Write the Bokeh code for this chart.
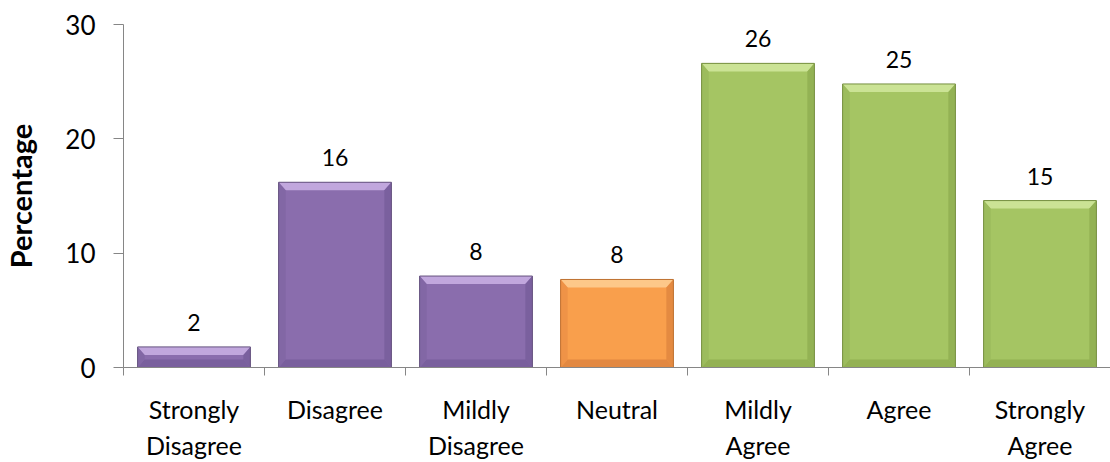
from bokeh.plotting import figure
from bokeh.models import Range1d, LinearAxis, FixedTicker, ColumnDataSource
from bokeh.embed import file_html
from bokeh.resources import INLINE
from bokeh.core.properties import value

# ---- data ----
categories = ["Strongly Disagree", "Disagree", "Mildly Disagree", "Neutral",
              "Mildly Agree", "Agree", "Strongly Agree"]
tick_labels = ["Strongly\nDisagree", "Disagree", "Mildly\nDisagree", "Neutral",
               "Mildly\nAgree", "Agree", "Strongly\nAgree"]
percentages = [1.8, 16.2, 8.0, 7.7, 26.6, 24.8, 14.6]
value_labels = ["2", "16", "8", "8", "26", "25", "15"]
y_ticks = [0, 10, 20, 30]

# ---- styles ----
groups = ["neg", "neg", "neg", "neu", "pos", "pos", "pos"]
fill = {"neg": "#8A6DAD", "neu": "#F99F4C", "pos": "#A5C563"}
light = {"neg": "#C7ADE2", "neu": "#FDCC90", "pos": "#CFE59A"}
dark = {"neg": "#765D9A", "neu": "#DE843F", "pos": "#8FAD50"}
side = {"neg": "#7F65A3", "neu": "#EC9046", "pos": "#9AB95B"}
edge = {"neg": "#65527F", "neu": "#BE7030", "pos": "#768F40"}

FONT = "Lato"
BAR_W = 0.8
BEV_H = 0.05   # bevel width in x units
BEV_V = 0.7    # bevel height in y units

n = len(categories)
centers = [i + 0.5 for i in range(n)]  # category slot centres on a linear scale

src = ColumnDataSource(dict(
    x=centers, top=percentages, label=value_labels,
    fill=[fill[g] for g in groups], edge=[edge[g] for g in groups],
))

# bevel facets derived from the data
top_xs, top_ys, bot_xs, bot_ys, l_xs, l_ys, r_xs, r_ys = ([] for _ in range(8))
for c, v in zip(centers, percentages):
    x0, x1 = c - BAR_W / 2, c + BAR_W / 2
    dv = min(BEV_V, v * 0.4)
    top_xs.append([x0, x1, x1 - BEV_H, x0 + BEV_H]); top_ys.append([v, v, v - dv, v - dv])
    bot_xs.append([x0, x1, x1 - BEV_H, x0 + BEV_H]); bot_ys.append([0, 0, dv, dv])
    l_xs.append([x0, x0 + BEV_H, x0 + BEV_H, x0]); l_ys.append([0, dv, v - dv, v])
    r_xs.append([x1, x1 - BEV_H, x1 - BEV_H, x1]); r_ys.append([0, dv, v - dv, v])

p = figure(x_range=Range1d(0, n), y_range=Range1d(0, 30),
           width=1110, height=462, output_backend="svg", toolbar_location=None,
           x_axis_location=None, min_border_left=123, min_border_right=0,
           min_border_top=24, min_border_bottom=10)
p.outline_line_color = None
p.xgrid.visible = False
p.ygrid.visible = False
p.background_fill_color = "white"

# bars
p.vbar(x="x", top="top", width=BAR_W, source=src, fill_color="fill", line_color=None)
p.patches(top_xs, top_ys, fill_color=[light[g] for g in groups], line_color=None, fill_alpha=0.9)
p.patches(bot_xs, bot_ys, fill_color=[dark[g] for g in groups], line_color=None, fill_alpha=0.85)
p.patches(l_xs, l_ys, fill_color=[side[g] for g in groups], line_color=None, fill_alpha=0.8)
p.patches(r_xs, r_ys, fill_color=[dark[g] for g in groups], line_color=None, fill_alpha=0.8)
p.vbar(x="x", top="top", width=BAR_W, source=src, fill_color=None,
       line_color="edge", line_width=1)

# value labels
p.text(x="x", y="top", text="label", source=src, text_align="center",
       text_baseline="bottom", y_offset=-16, text_font=value(FONT),
       text_font_size="23px", text_color="#000000")

# y axis
yax = p.yaxis[0]
yax.ticker = FixedTicker(ticks=y_ticks)
yax.minor_tick_line_color = None
yax.major_tick_in = 0
yax.major_tick_out = 10
yax.axis_line_color = "#868686"
yax.major_tick_line_color = "#868686"
yax.major_label_text_font = FONT
yax.major_label_text_font_size = "26px"
yax.major_label_text_color = "#000000"
yax.major_label_standoff = 18
yax.axis_label = "Percentage"
yax.axis_label_text_font = FONT
yax.axis_label_text_font_style = "bold"
yax.axis_label_text_font_size = "29px"
yax.axis_label_text_color = "#000000"
yax.axis_label_standoff = 24

# boundary ticks axis (closest to frame)
bounds = list(range(n + 1))
bax = LinearAxis(ticker=FixedTicker(ticks=bounds))
bax.major_label_overrides = {b: "" for b in bounds}
bax.major_label_text_font_size = "1px"
bax.major_label_standoff = 0
bax.minor_tick_line_color = None
bax.major_tick_in = 0
bax.major_tick_out = 8
bax.axis_line_color = "#868686"
bax.major_tick_line_color = "#868686"
p.add_layout(bax, "below")

# category labels axis
cax = LinearAxis(ticker=FixedTicker(ticks=centers))
cax.major_label_overrides = dict(zip(centers, tick_labels))
cax.axis_line_color = None
cax.major_tick_line_color = None
cax.minor_tick_line_color = None
cax.major_label_text_font = FONT
cax.major_label_text_font_size = "25px"
cax.major_label_text_color = "#000000"
cax.major_label_standoff = 12
p.add_layout(cax, "below")

open("out.html", "w").write(file_html(p, INLINE))
